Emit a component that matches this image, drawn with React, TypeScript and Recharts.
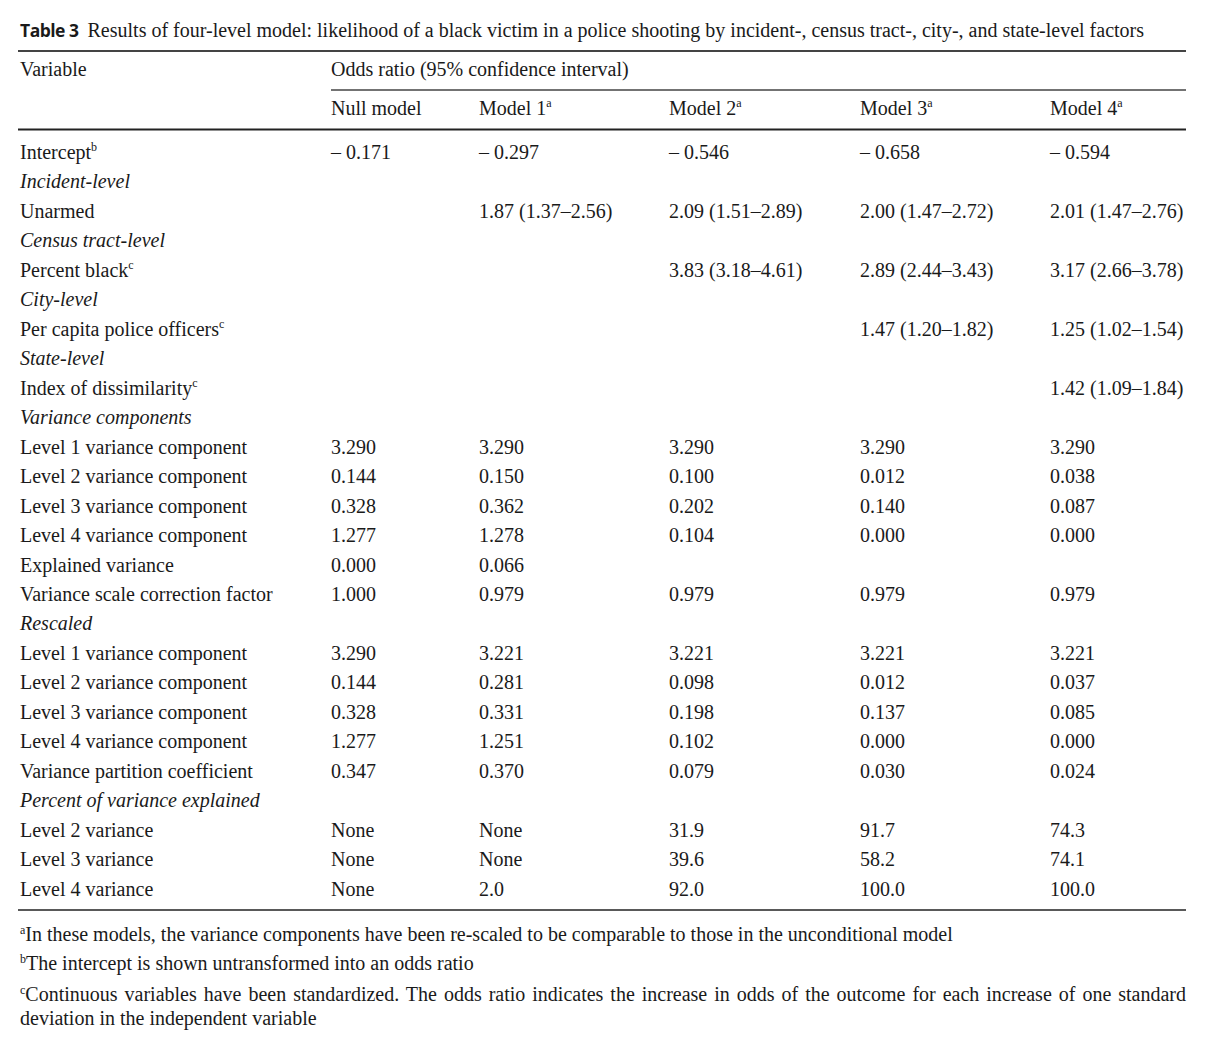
import { ScatterChart, Scatter, XAxis, YAxis, ReferenceLine } from 'recharts'

const VARIABLES = [
  'Intercept', 'Incident-level', 'Unarmed', 'Census tract-level', 'Percent black', 'City-level',
  'Per capita police officers', 'State-level', 'Index of dissimilarity', 'Variance components',
  'Level 1 variance component', 'Level 2 variance component', 'Level 3 variance component',
  'Level 4 variance component', 'Explained variance', 'Variance scale correction factor', 'Rescaled',
  'Level 1 variance component', 'Level 2 variance component', 'Level 3 variance component',
  'Level 4 variance component', 'Variance partition coefficient', 'Percent of variance explained',
  'Level 2 variance', 'Level 3 variance', 'Level 4 variance',
]
const VARIABLE_SUP = ['b', '', '', '', 'c', '', 'c', '', 'c', '', '', '', '', '', '', '', '', '', '', '', '', '', '', '', '', '']
const SECTION_ROWS = [1, 3, 5, 7, 9, 16, 22]

const NULL_MODEL = ['– 0.171', '', '', '', '', '', '', '', '', '', '3.290', '0.144', '0.328', '1.277', '0.000', '1.000', '', '3.290', '0.144', '0.328', '1.277', '0.347', '', 'None', 'None', 'None']
const MODEL_1 = ['– 0.297', '', '1.87 (1.37–2.56)', '', '', '', '', '', '', '', '3.290', '0.150', '0.362', '1.278', '0.066', '0.979', '', '3.221', '0.281', '0.331', '1.251', '0.370', '', 'None', 'None', '2.0']
const MODEL_2 = ['– 0.546', '', '2.09 (1.51–2.89)', '', '3.83 (3.18–4.61)', '', '', '', '', '', '3.290', '0.100', '0.202', '0.104', '', '0.979', '', '3.221', '0.098', '0.198', '0.102', '0.079', '', '31.9', '39.6', '92.0']
const MODEL_3 = ['– 0.658', '', '2.00 (1.47–2.72)', '', '2.89 (2.44–3.43)', '', '1.47 (1.20–1.82)', '', '', '', '3.290', '0.012', '0.140', '0.000', '', '0.979', '', '3.221', '0.012', '0.137', '0.000', '0.030', '', '91.7', '58.2', '100.0']
const MODEL_4 = ['– 0.594', '', '2.01 (1.47–2.76)', '', '3.17 (2.66–3.78)', '', '1.25 (1.02–1.54)', '', '1.42 (1.09–1.84)', '', '3.290', '0.038', '0.087', '0.000', '', '0.979', '', '3.221', '0.037', '0.085', '0.000', '0.024', '', '74.3', '74.1', '100.0']

const MODEL_NAMES = ['Null model', 'Model 1', 'Model 2', 'Model 3', 'Model 4']
const MODEL_SUP = ['', 'a', 'a', 'a', 'a']

const TITLE_LABEL = 'Table 3'
const TITLE = 'Results of four-level model: likelihood of a black victim in a police shooting by incident-, census tract-, city-, and state-level factors'
// each footnote: marker, then its printed lines
const FOOTNOTES: [string, string[]][] = [
  ['a', ['In these models, the variance components have been re-scaled to be comparable to those in the unconditional model']],
  ['b', ['The intercept is shown untransformed into an odds ratio']],
  ['c', ['Continuous variables have been standardized. The odds ratio indicates the increase in odds of the outcome for each increase of one standard', 'deviation in the independent variable']],
]

// layout
const W = 1227
const H = 1040
const COL_X = [20, 331, 479, 669, 860, 1050]
const ROW0 = 152
const ROW_STEP = 29.48
const toRow = (px: number) => (px - ROW0) / ROW_STEP
const FONT = "'Liberation Serif', 'Times New Roman', serif"
const FS = 20
const INK = '#1a1a1a'
const NOTE_TOP = [922, 951, 982]

const models = [NULL_MODEL, MODEL_1, MODEL_2, MODEL_3, MODEL_4]

const cells: any[] = []
VARIABLES.forEach((v, i) => {
  cells.push({ x: COL_X[0], y: i, text: v, sup: VARIABLE_SUP[i], italic: SECTION_ROWS.includes(i) })
  models.forEach((m, j) => {
    if (m[i]) cells.push({ x: COL_X[j + 1], y: i, text: m[i], sup: '', italic: false })
  })
})
cells.push({ x: COL_X[0], y: toRow(69), text: 'Variable', sup: '' })
cells.push({ x: COL_X[1], y: toRow(69), text: 'Odds ratio (95% confidence interval)', sup: '' })
MODEL_NAMES.forEach((n, j) => cells.push({ x: COL_X[j + 1], y: toRow(108), text: n, sup: MODEL_SUP[j] }))

const CellText = (p: any) => {
  const d = p.payload
  return (
    <text x={p.cx} y={p.cy} dy="0.34em" fontFamily={FONT} fontSize={FS} fill={INK}
      fontStyle={d.italic ? 'italic' : 'normal'}>
      {d.text}
      {d.sup ? <tspan dy={-8} fontSize={12}>{d.sup}</tspan> : null}
    </text>
  )
}

export default function App() {
  return (
    <div style={{ position: 'absolute', left: 0, top: 0, width: W, height: H, background: '#fff', color: INK }}>
      <div style={{ position: 'absolute', left: 20, top: 17, fontFamily: FONT, fontSize: FS, lineHeight: '26px', whiteSpace: 'nowrap' }}>
        <span style={{ fontFamily: "'Open Sans', 'Noto Sans', sans-serif", fontWeight: 700, fontSize: 17.5, letterSpacing: -0.5 }}>{TITLE_LABEL}</span>
        <span style={{ marginLeft: 9 }}>{TITLE}</span>
      </div>
      <ScatterChart width={W} height={H} margin={{ top: 0, right: 0, bottom: 0, left: 0 }}>
        <XAxis type="number" dataKey="x" domain={[0, W]} hide />
        <YAxis type="number" dataKey="y" domain={[toRow(0), toRow(H)]} reversed hide />
        <ReferenceLine segment={[{ x: 18, y: toRow(51) }, { x: 1186, y: toRow(51) }]} stroke="#444" strokeWidth={2} />
        <ReferenceLine segment={[{ x: 331, y: toRow(90) }, { x: 1186, y: toRow(90) }]} stroke="#444" strokeWidth={1.5} />
        <ReferenceLine segment={[{ x: 18, y: toRow(129.5) }, { x: 1186, y: toRow(129.5) }]} stroke="#222" strokeWidth={2} />
        <ReferenceLine segment={[{ x: 18, y: toRow(910) }, { x: 1186, y: toRow(910) }]} stroke="#222" strokeWidth={1.5} />
        <Scatter data={cells} shape={CellText} isAnimationActive={false} />
      </ScatterChart>
      {FOOTNOTES.map(([s, lines], i) =>
        lines.map((t, k) => (
          <div key={`${i}-${k}`} style={{
            position: 'absolute', left: 20, width: 1166, top: NOTE_TOP[i] + k * 24,
            fontFamily: FONT, fontSize: FS, lineHeight: '24px', whiteSpace: 'nowrap',
            textAlign: k < lines.length - 1 ? 'justify' : 'left',
            textAlignLast: k < lines.length - 1 ? 'justify' : 'left',
          }}>
            {k === 0 ? <span style={{ fontSize: 12, position: 'relative', top: -7 }}>{s}</span> : null}{t}
          </div>
        ))
      )}
    </div>
  )
}
